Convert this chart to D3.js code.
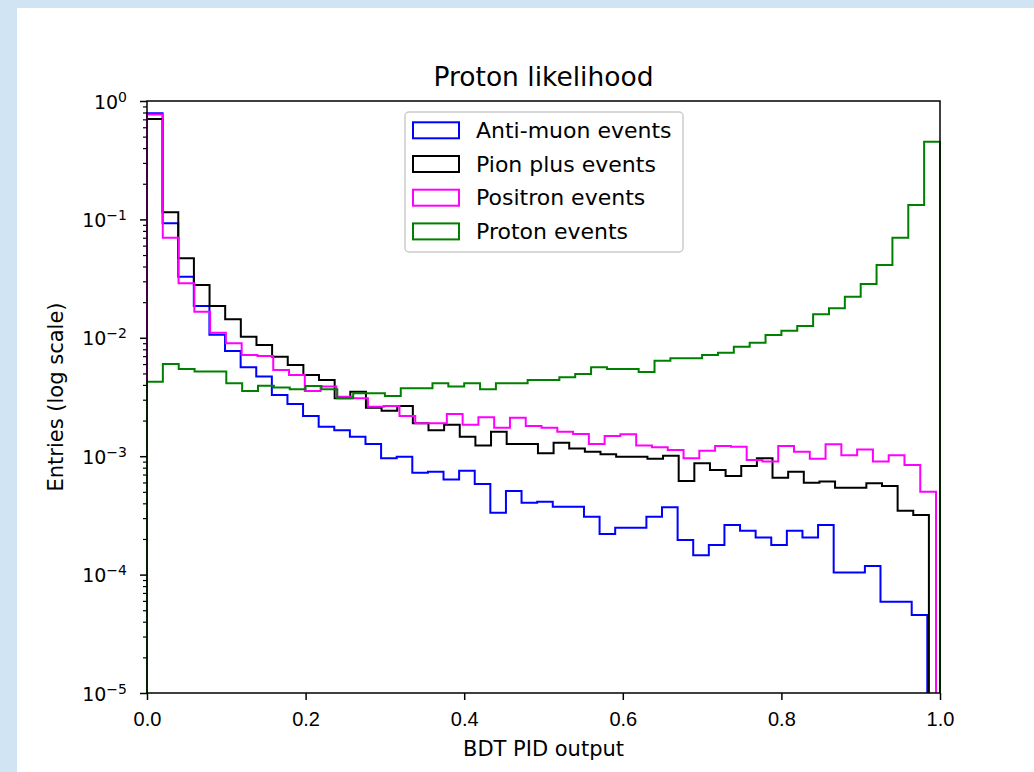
<!DOCTYPE html>
<html>
<head>
<meta charset="utf-8">
<script src="https://cdn.jsdelivr.net/npm/d3@7"></script>
<style>
    html, body { margin: 0; padding: 0; background: #d0e4f3; }
    svg { display: block; font-family: "DejaVu Sans", sans-serif; }
</style>
</head>
<body>
<svg id="chart"></svg>
<script>
// histogram contents, 50 bins per sample
const seriesNames = ['Anti-muon events', 'Pion plus events', 'Positron events', 'Proton events']
const seriesColors = ['#0000ff', '#000000', '#ff00ff', '#008000']
// each sample was binned between its own min and max
const binRanges = [[0, 0.984], [0, 0.986], [0, 0.995], [0, 1.0]]

const antiMuon = [0.787, 0.0927, 0.0328, 0.0186, 0.0106, 0.00774, 0.00563, 0.0047, 0.00329, 0.00276,
    0.00219, 0.00177, 0.00166, 0.00146, 0.00127, 0.00096, 0.00099, 0.000726, 0.00074, 0.000637,
    0.000755, 0.000582, 0.000333, 0.000508, 0.000405, 0.000413, 0.000375, 0.000375, 0.000308, 0.00022,
    0.000249, 0.000249, 0.000308, 0.00037, 0.000196, 0.000146, 0.000178, 0.000262, 0.000235, 0.000206,
    0.000178, 0.000235, 0.000206, 0.000262, 0.000104, 0.000104, 0.000118, 0.000059, 0.000059, 0.0000456]

const pionPlus = [0.705, 0.1148, 0.0469, 0.0279, 0.01856, 0.01432, 0.0102, 0.00869, 0.00693, 0.00589,
    0.00485, 0.0044, 0.00308, 0.0035, 0.00257, 0.00242, 0.00265, 0.0019, 0.00166, 0.00184,
    0.00146, 0.00123, 0.00161, 0.00127, 0.00127, 0.00106, 0.0013, 0.00116, 0.00109, 0.00104,
    0.00099, 0.00099, 0.00095, 0.00101, 0.000618, 0.00087, 0.000764, 0.00068, 0.000826, 0.00096,
    0.000659, 0.00074, 0.000597, 0.00061, 0.000542, 0.000542, 0.00059, 0.00056, 0.000347, 0.000319]

const positron = [0.77, 0.0701, 0.0289, 0.01662, 0.01104, 0.00898, 0.00716, 0.00702, 0.00535, 0.00485,
    0.00356, 0.00387, 0.00318, 0.00308, 0.00262, 0.00265, 0.00219, 0.0019, 0.0019, 0.00227,
    0.00184, 0.00213, 0.00174, 0.00211, 0.0018, 0.00174, 0.00161, 0.00154, 0.00127, 0.00148,
    0.00153, 0.00123, 0.00119, 0.00113, 0.00096, 0.00111, 0.00122, 0.0012, 0.00093, 0.0009,
    0.00122, 0.00109, 0.00095, 0.00126, 0.00102, 0.00114, 0.0009, 0.00102, 0.000843, 0.000501]

const proton = [0.00426, 0.00601, 0.00545, 0.00518, 0.00518, 0.00413, 0.00356, 0.00394, 0.00381, 0.00367,
    0.00392, 0.00367, 0.00308, 0.0034, 0.0034, 0.00322, 0.00374, 0.00374, 0.00413, 0.00387,
    0.00413, 0.00367, 0.00413, 0.00413, 0.0044, 0.0044, 0.00464, 0.00494, 0.00563, 0.00545,
    0.00545, 0.00514, 0.00641, 0.00671, 0.00671, 0.00716, 0.00749, 0.00841, 0.0091, 0.01056,
    0.01148, 0.01259, 0.01579, 0.01774, 0.02225, 0.02846, 0.0412, 0.0701, 0.1324, 0.453]

const seriesValues = [antiMuon, pionPlus, positron, proton]

const xTicks = [0, 0.2, 0.4, 0.6, 0.8, 1.0]
const yExponents = [0, -1, -2, -3, -4, -5]

const width = 1034, height = 772
const plot = { left: 147, right: 940, top: 101, bottom: 693 }

let svg = d3.select('#chart')
    .attr('width', width)
    .attr('height', height)

// page background + white card
svg.append('rect').attr('width', width).attr('height', height).style('fill', '#d0e4f3')
svg.append('rect').attr('x', 17).attr('y', 8).attr('width', width - 17).attr('height', height - 8).style('fill', '#fff')

let x = d3.scaleLinear().domain([0, 1]).range([plot.left, plot.right])
let y = d3.scaleLog().domain([1e-5, 1]).range([plot.bottom, plot.top])

svg.append('clipPath').attr('id', 'plot-clip')
    .append('rect')
    .attr('x', plot.left - 2).attr('y', plot.top)
    .attr('width', plot.right - plot.left + 4).attr('height', plot.bottom - plot.top)

// step outline like histtype='step'
const stepPoints = (values, range) => {
    const n = values.length
    const w = (range[1] - range[0]) / n
    let pts = [[range[0], 1e-5]]
    values.forEach((v, i) => {
        pts.push([range[0] + i * w, v])
        pts.push([range[0] + (i + 1) * w, v])
    })
    pts.push([range[1], 1e-5])
    return pts
}

let line = d3.line()
    .x(d => x(d[0]))
    .y(d => y(Math.max(d[1], 1e-5)))

let histLayer = svg.append('g').attr('clip-path', 'url(#plot-clip)')
seriesValues.forEach((vals, i) => {
    histLayer.append('path')
        .attr('d', line(stepPoints(vals, binRanges[i])))
        .style('fill', 'none')
        .style('stroke', seriesColors[i])
        .style('stroke-width', 2)
})

// axes
let xAxis = svg.append('g')
    .attr('transform', 'translate(0,' + plot.bottom + ')')
    .call(d3.axisBottom(x).tickValues(xTicks).tickFormat(d3.format('.1f')).tickSize(7).tickSizeOuter(0).tickPadding(12))
xAxis.select('.domain').remove()
xAxis.selectAll('line').style('stroke', '#000').style('stroke-width', 1.5)
xAxis.selectAll('text').style('font-size', '20px').style('fill', '#000')
    .attr('font-family', null)

let minorTicks = []
yExponents.forEach(e => {
    if (e === 0) return
    for (let k = 2; k <= 9; ++k) minorTicks.push(k * Math.pow(10, e))
})

let yMinor = svg.append('g')
    .attr('transform', 'translate(' + plot.left + ',0)')
    .call(d3.axisLeft(y).tickValues(minorTicks).tickFormat('').tickSize(4).tickSizeOuter(0))
yMinor.select('.domain').remove()
yMinor.selectAll('line').style('stroke', '#000').style('stroke-width', 1.2)

let yMajor = svg.append('g')
    .attr('transform', 'translate(' + plot.left + ',0)')
    .call(d3.axisLeft(y).tickValues(yExponents.map(e => Math.pow(10, e))).tickFormat('').tickSize(7).tickSizeOuter(0))
yMajor.select('.domain').remove()
yMajor.selectAll('line').style('stroke', '#000').style('stroke-width', 1.5)

// 10^n labels
yExponents.forEach(e => {
    let t = svg.append('text')
        .attr('x', 127)
        .attr('y', y(Math.pow(10, e)) + 7.5)
        .attr('text-anchor', 'end')
        .style('fill', '#000')
    t.append('tspan').text('10').style('font-size', '19px')
    t.append('tspan').text(e === 0 ? '0' : '\u2212' + (-e)).attr('dy', -7).style('font-size', '14px')
})

// frame
svg.append('rect')
    .attr('x', plot.left).attr('y', plot.top)
    .attr('width', plot.right - plot.left).attr('height', plot.bottom - plot.top)
    .style('fill', 'none').style('stroke', '#000').style('stroke-width', 1.5)

// texts
svg.append('text')
    .attr('x', (plot.left + plot.right) / 2).attr('y', 86)
    .attr('text-anchor', 'middle').style('font-size', '26.5px')
    .text('Proton likelihood')

svg.append('text')
    .attr('x', (plot.left + plot.right) / 2).attr('y', 756)
    .attr('text-anchor', 'middle').style('font-size', '21px')
    .text('BDT PID output')

svg.append('text')
    .attr('transform', 'translate(63,' + (plot.top + plot.bottom) / 2 + ') rotate(-90)')
    .attr('text-anchor', 'middle').style('font-size', '21px')
    .text('Entries (log scale)')

// legend
let legend = svg.append('g')
legend.append('rect')
    .attr('x', 405).attr('y', 112).attr('width', 278).attr('height', 140).attr('rx', 4)
    .style('fill', '#fff').style('fill-opacity', 0.8)
    .style('stroke', '#cccccc').style('stroke-width', 1.5)

seriesNames.forEach((name, i) => {
    let cy = 130.3 + i * 33.7
    legend.append('rect')
        .attr('x', 413).attr('y', cy - 8).attr('width', 46).attr('height', 16)
        .style('fill', 'none').style('stroke', seriesColors[i]).style('stroke-width', 2)
    legend.append('text')
        .attr('x', 476).attr('y', cy + 7.5)
        .style('font-size', '22px')
        .text(name)
})
</script>
</body>
</html>
